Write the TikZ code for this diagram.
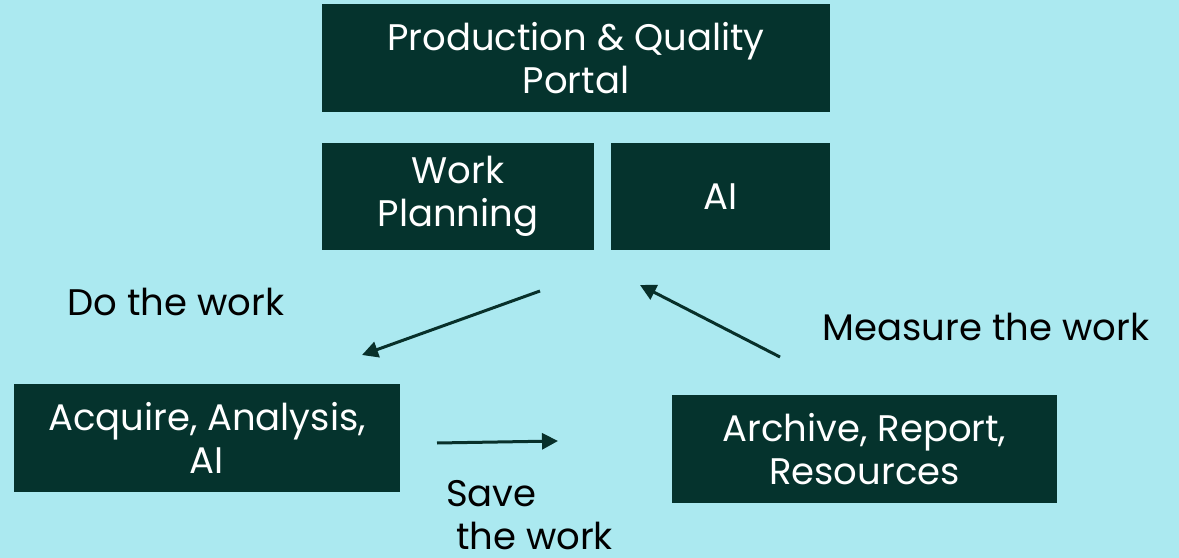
\documentclass[tikz,border=0pt]{standalone}
\usepackage{fontspec}
\setmainfont{Poppins}
\usetikzlibrary{arrows.meta}
\definecolor{bgcyan}{RGB}{171,233,240}
\definecolor{boxgreen}{RGB}{5,51,45}
\definecolor{inkgreen}{RGB}{8,48,42}
\begin{document}
\begin{tikzpicture}[x=1bp,y=-1bp,
  panel/.style={fill=boxgreen, text=white, inner sep=0pt, align=center,
    font=\fontsize{37bp}{43bp}\selectfont},
  caption/.style={inner sep=0pt, text=black, font=\fontsize{37bp}{43bp}\selectfont},
  flow/.style={draw=inkgreen, line width=3bp,
    -{Triangle[length=16bp,width=16bp]}}]
  % background
  \fill[bgcyan] (0,0) rectangle (1179,558);
  \useasboundingbox (0,0) rectangle (1179,558);
  % boxes
  \node[panel, minimum width=508bp, minimum height=108bp] (portal) at (576,58)
    {Production \& Quality\\Portal};
  \node[panel, minimum width=272bp, minimum height=107bp] (plan) at (458,196.5)
    {Work\\Planning};
  \node[panel, minimum width=219bp, minimum height=107bp] (ai) at (720.5,196.5) {AI};
  \node[panel, minimum width=386bp, minimum height=108bp] (acq) at (207,438)
    {Acquire, Analysis,\\AI};
  \node[panel, minimum width=385bp, minimum height=108bp] (arch) at (864.5,449)
    {Archive, Report,\\Resources};
  % labels
  \node[caption] (do) at (176,302) {Do the work};
  \node[caption] (meas) at (986,327) {Measure the work};
  \node[caption, anchor=west] (save1) at (446,494) {Save};
  \node[caption, anchor=west] (save2) at (456,536) {the work};
  % arrow end points
  \coordinate (doA) at (540,291);
  \coordinate (doB) at (362,355);
  \coordinate (saveA) at (437,443);
  \coordinate (saveB) at (558,441);
  \coordinate (measA) at (780,357);
  \coordinate (measB) at (640,285);
  \draw[flow] (doA) -- (doB);
  \draw[flow] (saveA) -- (saveB);
  \draw[flow] (measA) -- (measB);
\end{tikzpicture}
\end{document}
